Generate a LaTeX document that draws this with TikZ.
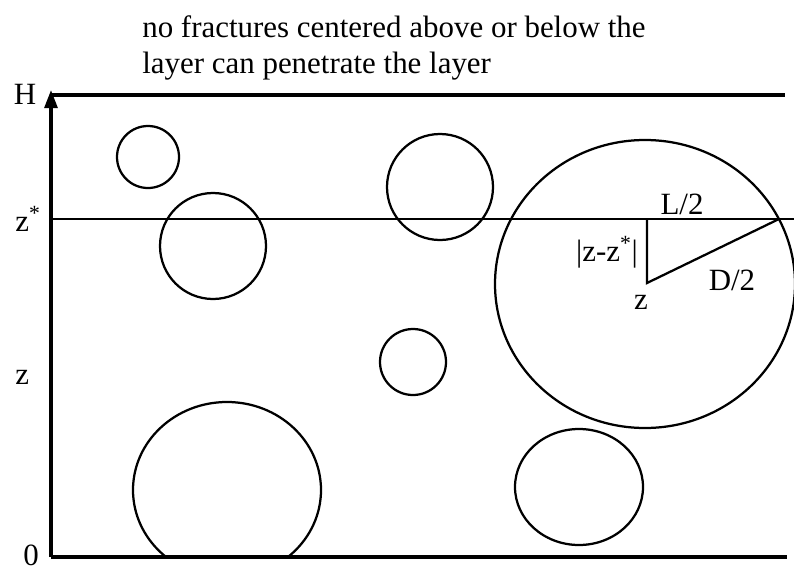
\documentclass[tikz,border=0pt]{standalone}
\usepackage{fontspec}
\setmainfont{Liberation Serif}
\usetikzlibrary{arrows.meta}

\begin{document}
\begin{tikzpicture}[x=0.025cm, y=-0.025cm,
    frac/.style={line width=1.6pt},
    bound/.style={line width=2.4pt},
    thin/.style={line width=1.6pt},
    lbl/.style={font=\fontsize{22}{25.6}\selectfont, inner sep=0pt}
]
\useasboundingbox (0,0) rectangle (794,572);

% axis and layer boundaries
\coordinate (o)   at (51,557);
\coordinate (top) at (51,90);
\draw[bound, -{Triangle[length=0.45cm, width=0.32cm]}] (o) -- (top);
\draw[bound] (51,95) -- (785,95);
\draw[bound] (o) -- (787,557);
\draw[thin] (51,219) -- (794,219);

\node[lbl, anchor=base] (hlab) at (25,104) {H};
\node[lbl, anchor=base west] (zslab) at (15,231) {z\textsuperscript{*}};
\node[lbl, anchor=base west] (zlab)  at (15,384) {z};
\node[lbl, anchor=base west] (olab)  at (23,565) {0};

\node[lbl, anchor=north west, align=left] (note) at (142,15)
    {no fractures centered above or below the\\layer can penetrate the layer};

% fractures
\draw[frac] (148,157) circle [radius=31];
\draw[frac] (213,246) circle [radius=53];
\draw[frac] (440,187) circle [radius=53];
\draw[frac] (413,362) circle [radius=33];
\draw[frac] (579,487) ellipse [x radius=64, y radius=58];
\draw[frac] (645,284) ellipse [x radius=150, y radius=144];
\begin{scope}
  \clip (100,300) rectangle (400,557);
  \draw[frac] (227,490) ellipse [x radius=94, y radius=88];
\end{scope}

% half lengths
\coordinate (zs) at (647,219);
\coordinate (zc) at (647,283);
\coordinate (lc) at (779,219);
\draw[thin] (zs) -- (zc) -- (lc);
\node[lbl, anchor=base] (llab) at (682,214) {L/2};
\node[lbl, anchor=base] (dlab) at (732,290) {D/2};
\node[lbl] (dz)   at (607,252) {|z-z\textsuperscript{*}|};
\node[lbl, anchor=base] (zpt) at (641,309) {z};
\end{tikzpicture}
\end{document}
